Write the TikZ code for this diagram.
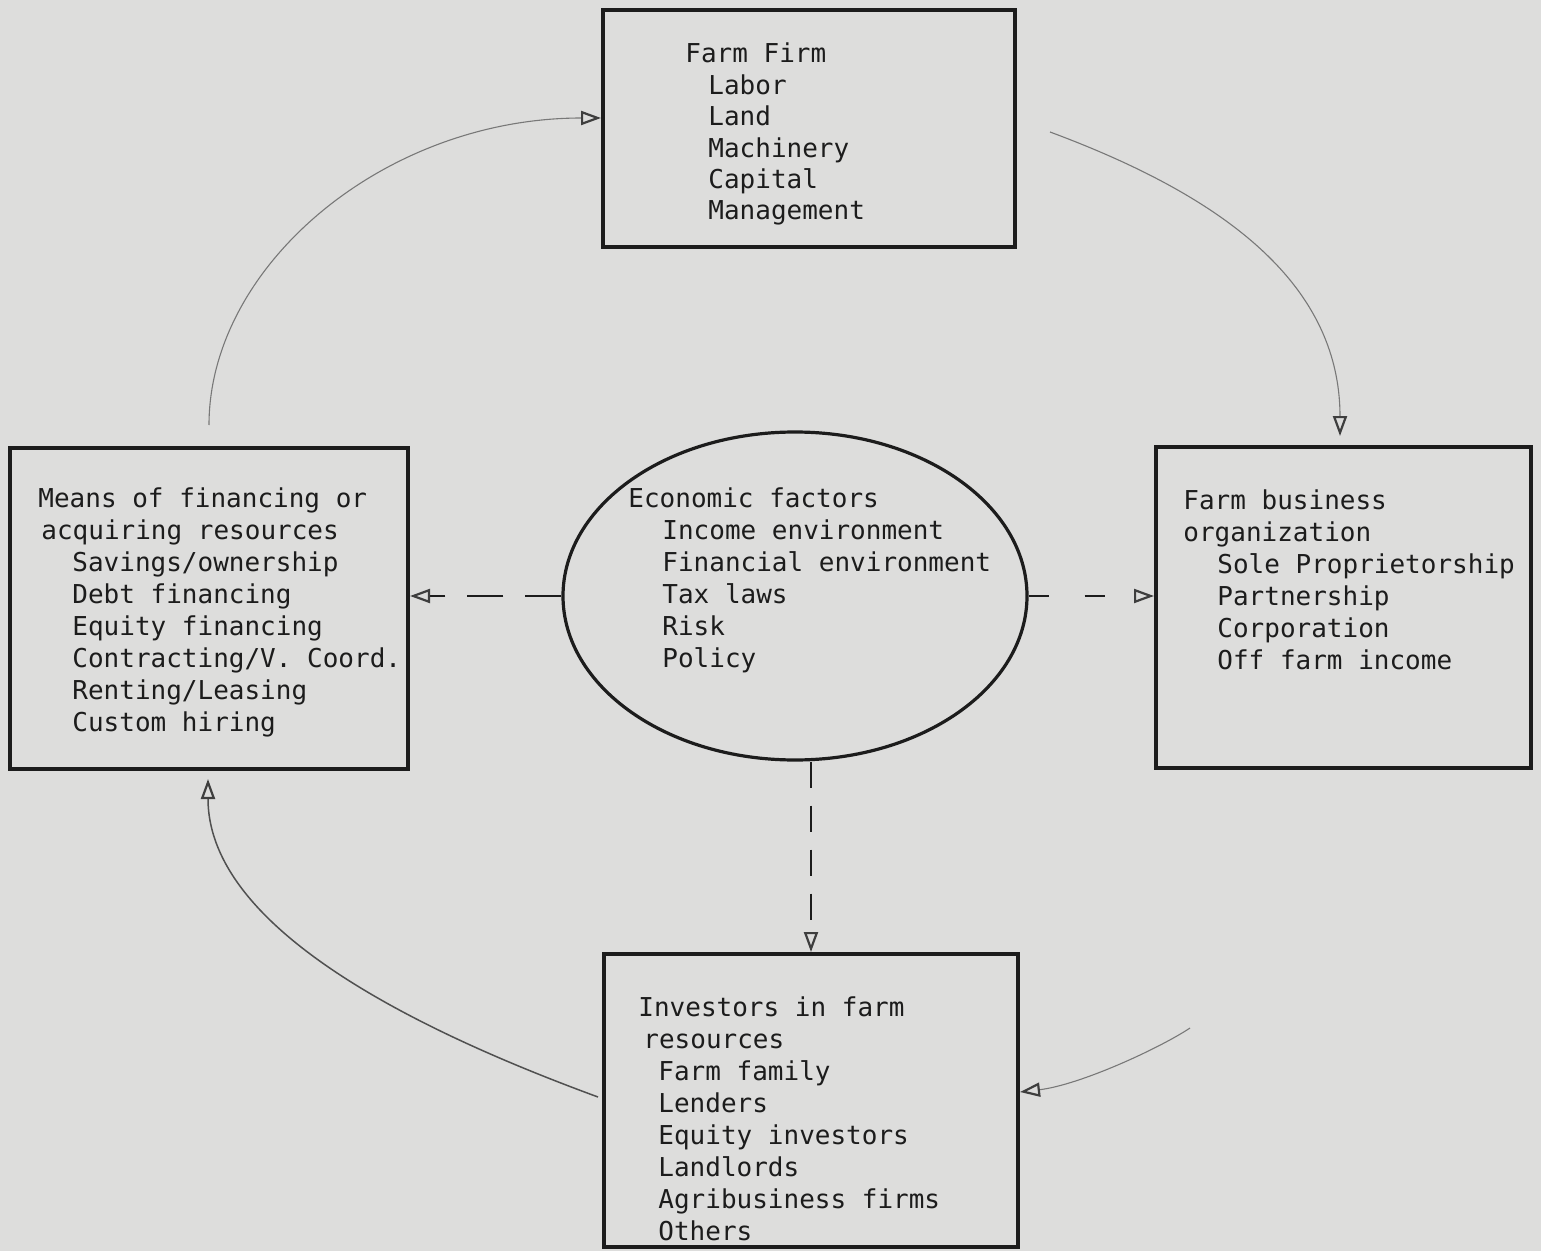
\documentclass[tikz,border=0pt]{standalone}
\usepackage{fontspec}
\setmonofont{DejaVu Sans Mono}
\usetikzlibrary{arrows.meta,shapes.geometric}
\definecolor{paper}{RGB}{221,221,220}
\definecolor{ink}{RGB}{28,28,28}
\definecolor{faint}{RGB}{120,120,120}
\definecolor{mid}{RGB}{80,80,80}
\begin{document}
\begin{tikzpicture}[x=0.5pt,y=-0.5pt,
  box/.style={draw=ink,line width=2pt,rectangle,inner sep=0pt},
  oval/.style={draw=ink,line width=1.6pt,ellipse,inner sep=0pt},
  txt/.style={font=\ttfamily\fontsize{13}{16}\selectfont,text=ink,align=left,anchor=base west,inner sep=0pt},
  tip/.style={-{Triangle[open,length=10pt,width=7pt,line width=1.1pt,color=ink!85]}},
  dashconn/.style={draw=ink,line width=1.1pt,tip},
  curvefaint/.style={draw=faint,line width=0.55pt,tip},
  curvemid/.style={draw=mid,line width=0.75pt,tip}]
\fill[paper] (0,0) rectangle (1541,1251);
\useasboundingbox (0,0) rectangle (1541,1251);

% boxes
\node[box,minimum width=206pt,minimum height=118.5pt] (F) at (809,128.5) {};
\node[box,minimum width=199pt,minimum height=160.5pt] (L) at (209,608.5) {};
\node[box,minimum width=187.5pt,minimum height=160.5pt] (R) at (1343.5,607.5) {};
\node[box,minimum width=207pt,minimum height=146.5pt] (B) at (811,1100.5) {};
\node[oval,minimum width=232pt,minimum height=164pt] (E) at (795,596) {};

% texts (anchor = baseline of the last line)
\node[txt,font=\ttfamily\fontsize{13}{15.7}\selectfont] (Ft) at (685,220) {Farm Firm\\
\hspace*{11.5pt}Labor\\
\hspace*{11.5pt}Land\\
\hspace*{11.5pt}Machinery\\
\hspace*{11.5pt}Capital\\
\hspace*{11.5pt}Management};

\node[txt] (Lt) at (38,731) {Means of financing or\\
\hspace*{1.5pt}acquiring resources\\
\hspace*{17pt}Savings/ownership\\
\hspace*{17pt}Debt financing\\
\hspace*{17pt}Equity financing\\
\hspace*{17pt}Contracting/V. Coord.\\
\hspace*{17pt}Renting/Leasing\\
\hspace*{17pt}Custom hiring};

\node[txt] (Rt) at (1183,669) {Farm business\\
organization\\
\hspace*{17pt}Sole Proprietorship\\
\hspace*{17pt}Partnership\\
\hspace*{17pt}Corporation\\
\hspace*{17pt}Off farm income};

\node[txt] (Bt) at (638,1240) {Investors in farm\\
\hspace*{2.5pt}resources\\
\hspace*{10pt}Farm family\\
\hspace*{10pt}Lenders\\
\hspace*{10pt}Equity investors\\
\hspace*{10pt}Landlords\\
\hspace*{10pt}Agribusiness firms\\
\hspace*{10pt}Others};

\node[txt] (Et) at (628,667) {Economic factors\\
\hspace*{17pt}Income environment\\
\hspace*{17pt}Financial environment\\
\hspace*{17pt}Tax laws\\
\hspace*{17pt}Risk\\
\hspace*{17pt}Policy};

% dashed connectors from the ellipse
\draw[dashconn,dash pattern=on 18pt off 11pt] (E.west) -- (E.west -| L.east);
\draw[dashconn,dash pattern=on 10pt off 18pt] (E.east) -- (E.east -| R.west);
\draw[dashconn,dash pattern=on 13pt off 9pt] (B.north |- E.south) -- (B.north);

% curved connectors
\draw[curvefaint,shorten <=10.5pt] (L.north) .. controls (209,266) and (384,118) .. ([shift={(0,-10.5)}]F.west);
\draw[curvefaint] ([shift={(33,3.5)}]F.east) .. controls (1217,194) and (1340,280) .. ([shift={(-3.5,-9)}]R.north);
\coordinate (c3) at (1190,1028);
\draw[curvefaint] (c3) .. controls (1160,1048) and (1080,1085) .. ([shift={(0,-8.5)}]B.east);
\draw[curvemid,shorten >=4pt] ([shift={(-4,-3.5)}]B.west) .. controls (421,1032) and (208,930) .. ([shift={(-1,0)}]L.south);
\end{tikzpicture}
\end{document}
